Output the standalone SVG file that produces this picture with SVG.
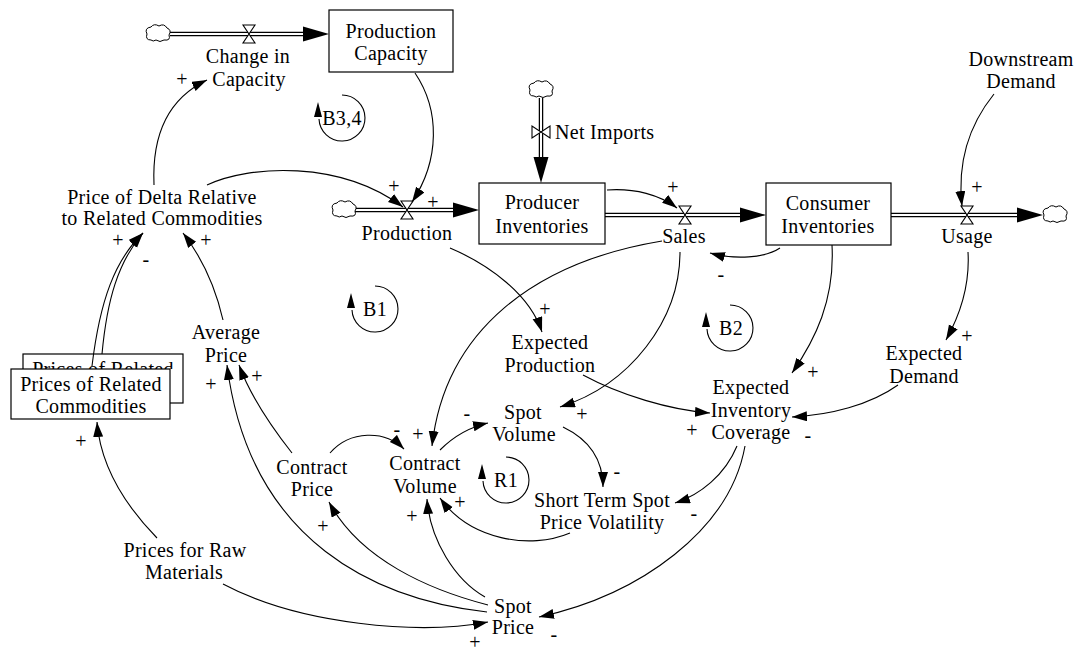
<svg xmlns="http://www.w3.org/2000/svg" xmlns:xlink="http://www.w3.org/1999/xlink" width="1076" height="652" viewBox="0 0 1076 652" font-family="'Liberation Serif', 'Times New Roman', serif">
<style>
text{font-family:'Liberation Serif','Times New Roman',serif}
.t{font-size:20px;letter-spacing:0.3px;fill:#000;text-anchor:middle}
.st{text-anchor:start}
.c{fill:none;stroke:#000;stroke-width:1.1;marker-end:url(#ah)}
.box{fill:#fff;stroke:#000;stroke-width:1.2}
.pipeo{stroke:#000;stroke-width:4.5;fill:none}
.pipei{stroke:#fff;stroke-width:2;fill:none}
.valve{fill:#fff;stroke:#000;stroke-width:1.1}
.cloud{fill:#fff;stroke:#000;stroke-width:1}
.ph{fill:#000;stroke:none}
.loop{fill:none;stroke:#000;stroke-width:1.1}
</style>
<defs>
<marker id="ah" markerUnits="userSpaceOnUse" markerWidth="16" markerHeight="11" refX="15" refY="5" orient="auto">
<path d="M0,0 L15,5 L0,10 Z" fill="#000"/>
</marker>
<clipPath id="backclip"><rect x="0" y="340" width="200" height="29"/></clipPath>
<path id="cloudp" class="cloud" d="M-7,7 Q-13,7 -11,1 Q-14,-5 -7,-6 Q-4,-10 1,-7 Q6,-10 9,-5 Q14,-3 11,2 Q13,8 6,7 Q2,10 -2,7 Q-5,9 -7,7 Z"/>
<path id="vvalve" class="valve" d="M-6,-9 H6 L-6,9 H6 Z"/>
<path id="hvalve" class="valve" d="M-9,-6 V6 L9,-6 V6 Z"/>
<g id="loopmark">
<path class="loop" d="M0,-23 A23,23 0 1 1 -23,1"/>
<path d="M-24,-16 L-28,-1 L-20,-1 Z" fill="#000"/>
</g>
</defs>

<g id="flows">
<path class="pipeo" d="M170,34 H305"/><path class="pipei" d="M170,34 H305"/>
<path class="ph" d="M303,26.5 L329,34 L303,41.5 Z"/>
<use xlink:href="#cloudp" x="158" y="33"/>
<use xlink:href="#vvalve" x="249" y="34"/>

<path class="pipeo" d="M355,210 H456"/><path class="pipei" d="M355,210 H456"/>
<path class="ph" d="M453,202.5 L479,210 L453,217.5 Z"/>
<use xlink:href="#cloudp" x="344" y="209"/>
<use xlink:href="#vvalve" x="407" y="210"/>

<path class="pipeo" d="M541,98 V160"/><path class="pipei" d="M541,98 V160"/>
<path class="ph" d="M533.5,157 L541,183 L548.5,157 Z"/>
<use xlink:href="#cloudp" x="541" y="89"/>
<use xlink:href="#hvalve" x="541" y="132"/>

<path class="pipeo" d="M605,215 H743"/><path class="pipei" d="M605,215 H743"/>
<path class="ph" d="M740,207.5 L766,215 L740,222.5 Z"/>
<use xlink:href="#vvalve" x="685" y="215"/>

<path class="pipeo" d="M891,215 H1020"/><path class="pipei" d="M891,215 H1020"/>
<path class="ph" d="M1017,207.5 L1043,215 L1017,222.5 Z"/>
<use xlink:href="#cloudp" x="1055" y="214"/>
<use xlink:href="#vvalve" x="967" y="215"/>
</g>

<g id="connectors">
<path class="c" d="M154,185 C152,140 165,100 207,80"/>
<path class="c" d="M207,185 C250,165 340,160 403,207"/>
<path class="c" d="M415,73 C440,110 440,160 412,202"/>
<path class="c" d="M607,190 C635,188 660,195 677,208"/>
<path class="c" d="M780,248 C765,258 735,260 710,253"/>
<path class="c" d="M994,94 C965,130 958,170 962,206"/>
<path class="c" d="M968,252 C970,285 960,315 946,340"/>
<path class="c" d="M832,245 C835,300 815,340 792,373"/>
<path class="c" d="M898,385 C870,405 830,415 792,417"/>
<path class="c" d="M583,375 C620,395 670,410 710,413"/>
<path class="c" d="M450,248 C490,265 530,295 542,332"/>
<path class="c" d="M662,241 C535,262 445,330 432,446"/>
<path class="c" d="M680,252 C680,320 630,385 560,407"/>
<path class="c" d="M440,450 C455,435 470,427 488,423"/>
<path class="c" d="M330,453 C350,430 385,430 404,449"/>
<path class="c" d="M563,427 C590,440 603,460 603,487"/>
<path class="c" d="M570,533 C530,550 470,540 440,498"/>
<path class="c" d="M485,597 C455,580 430,540 427,499"/>
<path class="c" d="M488,605 C430,590 360,560 329,502"/>
<path class="c" d="M487,612 C380,600 250,545 227,365"/>
<path class="c" d="M292,453 C270,425 250,395 239,365"/>
<path class="c" d="M223,584 C300,625 420,635 488,622"/>
<path class="c" d="M157,538 C120,500 100,460 97,422"/>
<path class="c" d="M737,446 C725,475 700,495 675,503"/>
<path class="c" d="M745,446 C730,530 640,595 539,617"/>
<path class="c" d="M223,320 C215,285 200,255 183,233"/>
<path class="c" d="M102,354 C107,300 118,262 143,233"/>
</g>

<g id="prices-related-shadow">
<rect class="box" x="23" y="354" width="160" height="49"/>
<text class="t" x="103" y="376" clip-path="url(#backclip)">Prices of Related</text>
</g>
<g id="connector-front-box">
<path class="c" d="M92,366 C100,300 115,260 143,233"/>
</g>
<g id="prices-related">
<rect class="box" x="11" y="369" width="159" height="50"/>
<text class="t" x="91" y="391">Prices of Related</text>
<text class="t" x="91" y="413">Commodities</text>
</g>
<g id="production-capacity">
<rect class="box" x="329" y="10" width="124" height="62"/>
<text class="t" x="391" y="38">Production</text>
<text class="t" x="391" y="60">Capacity</text>
</g>
<g id="change-in-capacity">
<text class="t" x="248" y="63">Change in</text>
<text class="t" x="249" y="86">Capacity</text>
</g>
<g id="production"><text class="t" x="407" y="240">Production</text></g>
<g id="producer-inventories">
<rect class="box" x="479" y="183" width="126" height="61"/>
<text class="t" x="542" y="209">Producer</text>
<text class="t" x="542" y="233">Inventories</text>
</g>
<g id="net-imports"><text class="t st" x="555" y="139">Net Imports</text></g>
<g id="sales"><text class="t" x="684" y="243">Sales</text></g>
<g id="consumer-inventories">
<rect class="box" x="766" y="183" width="125" height="62"/>
<text class="t" x="828" y="210">Consumer</text>
<text class="t" x="828" y="233">Inventories</text>
</g>
<g id="usage"><text class="t" x="967" y="243">Usage</text></g>
<g id="downstream-demand">
<text class="t" x="1021" y="66">Downstream</text>
<text class="t" x="1021" y="88">Demand</text>
</g>
<g id="price-of-delta">
<text class="t" x="162" y="204">Price of Delta Relative</text>
<text class="t" x="162" y="225">to Related Commodities</text>
</g>
<g id="average-price">
<text class="t" x="226" y="339">Average</text>
<text class="t" x="226" y="362">Price</text>
</g>
<g id="expected-production">
<text class="t" x="550" y="349">Expected</text>
<text class="t" x="550" y="372">Production</text>
</g>
<g id="spot-volume">
<text class="t" x="523" y="419">Spot</text>
<text class="t" x="524" y="441">Volume</text>
</g>
<g id="contract-price">
<text class="t" x="312" y="474">Contract</text>
<text class="t" x="312" y="496">Price</text>
</g>
<g id="contract-volume">
<text class="t" x="425" y="470">Contract</text>
<text class="t" x="425" y="493">Volume</text>
</g>
<g id="short-term-volatility">
<text class="t" x="602" y="507">Short Term Spot</text>
<text class="t" x="602" y="529">Price Volatility</text>
</g>
<g id="expected-inventory-coverage">
<text class="t" x="751" y="394">Expected</text>
<text class="t" x="751" y="417">Inventory</text>
<text class="t" x="751" y="439">Coverage</text>
</g>
<g id="expected-demand">
<text class="t" x="924" y="360">Expected</text>
<text class="t" x="924" y="383">Demand</text>
</g>
<g id="spot-price">
<text class="t" x="513" y="613">Spot</text>
<text class="t" x="513" y="634">Price</text>
</g>
<g id="prices-raw-materials">
<text class="t" x="185" y="557">Prices for Raw</text>
<text class="t" x="184" y="579">Materials</text>
</g>

<g id="loop-b34"><use xlink:href="#loopmark" x="342" y="118"/><text class="t" x="342" y="125">B3,4</text></g>
<g id="loop-b1"><use xlink:href="#loopmark" x="375" y="309"/><text class="t" x="375" y="316">B1</text></g>
<g id="loop-b2"><use xlink:href="#loopmark" x="730" y="328"/><text class="t" x="731" y="335">B2</text></g>
<g id="loop-r1"><use xlink:href="#loopmark" x="506" y="480"/><text class="t" x="506" y="487">R1</text></g>

<g id="signs">
<text class="t" x="182" y="86">+</text>
<text class="t" x="394" y="193">+</text>
<text class="t" x="433" y="209">+</text>
<text class="t" x="673" y="194">+</text>
<text class="t" x="721" y="281">-</text>
<text class="t" x="977" y="194">+</text>
<text class="t" x="967" y="343">+</text>
<text class="t" x="813" y="379">+</text>
<text class="t" x="808" y="442">-</text>
<text class="t" x="692" y="437">+</text>
<text class="t" x="545" y="316">+</text>
<text class="t" x="418" y="441">+</text>
<text class="t" x="582" y="421">+</text>
<text class="t" x="467" y="420">-</text>
<text class="t" x="397" y="436">-</text>
<text class="t" x="617" y="478">-</text>
<text class="t" x="460" y="509">+</text>
<text class="t" x="412" y="523">+</text>
<text class="t" x="323" y="533">+</text>
<text class="t" x="211" y="391">+</text>
<text class="t" x="257" y="383">+</text>
<text class="t" x="475" y="649">+</text>
<text class="t" x="81" y="448">+</text>
<text class="t" x="694" y="520">-</text>
<text class="t" x="554" y="641">-</text>
<text class="t" x="206" y="247">+</text>
<text class="t" x="118" y="247">+</text>
<text class="t" x="146" y="266">-</text>
</g>
</svg>
